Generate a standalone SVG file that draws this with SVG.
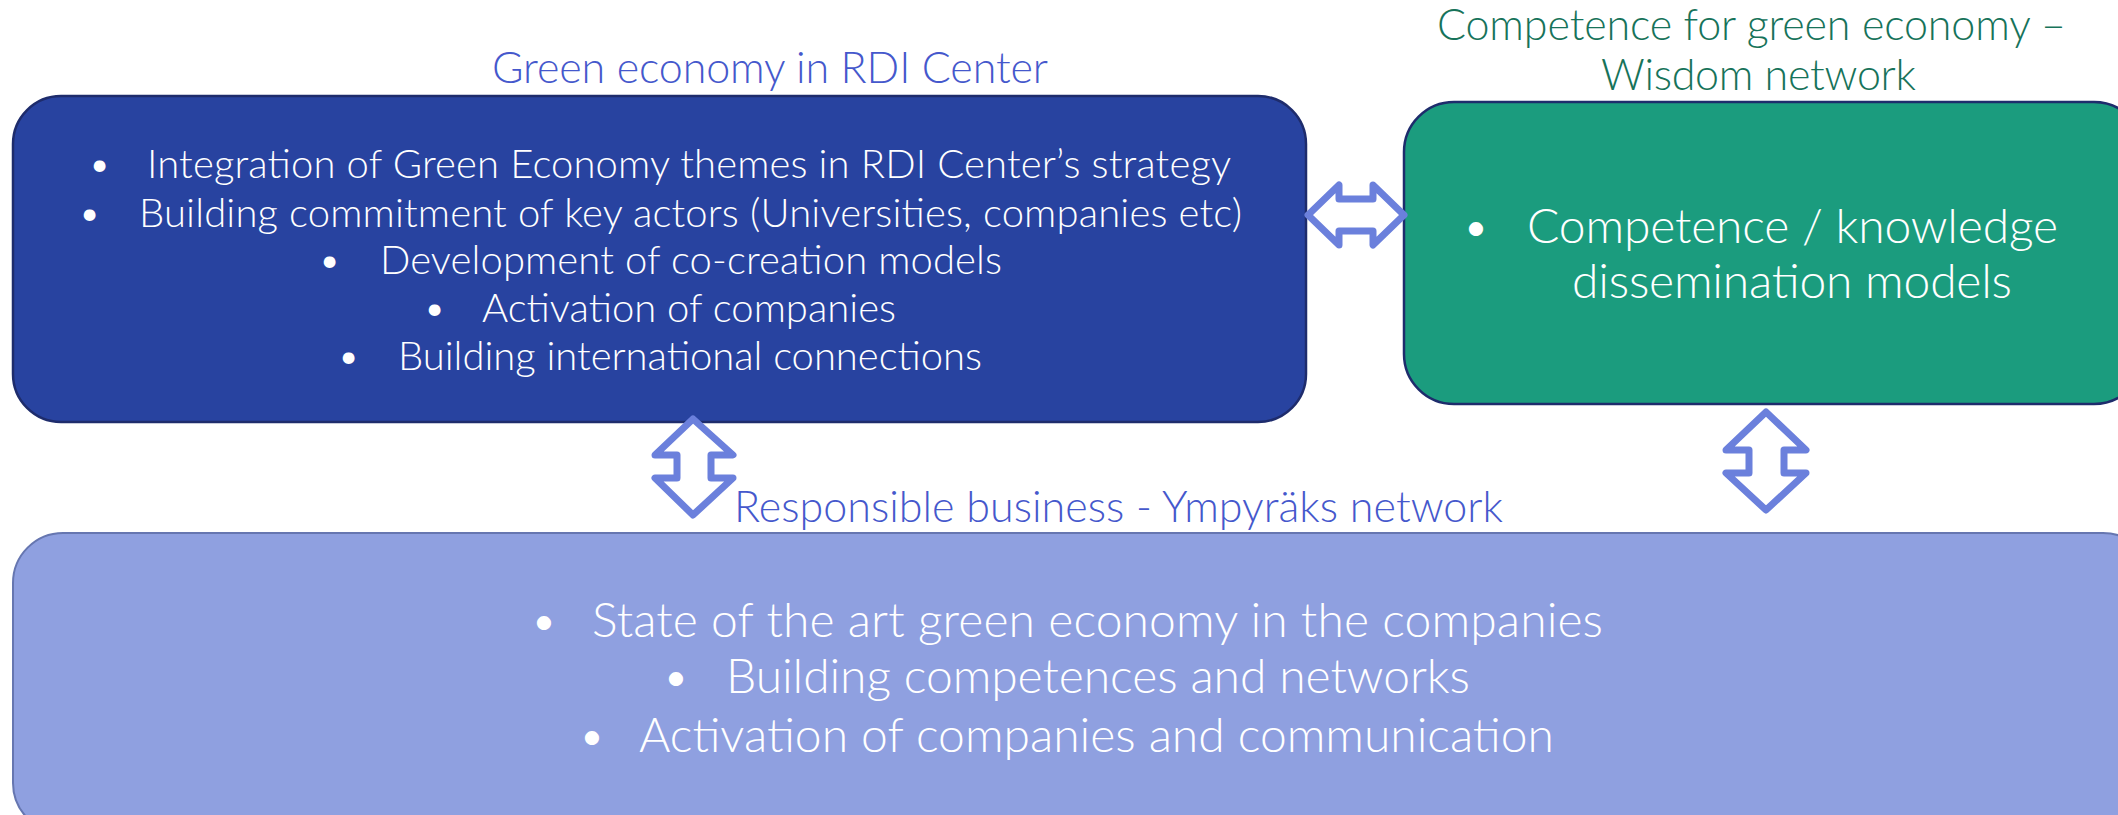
<svg xmlns="http://www.w3.org/2000/svg" width="2118" height="815" viewBox="0 0 2118 815">
<style>
text{font-family:"Lato Light",Lato,"Open Sans","Liberation Sans",sans-serif;font-weight:300}
.t{fill:#ffffff}
.ttl{fill:#4558CC;font-size:43px}
.gttl{fill:#17735A;font-size:43px}
.arr{fill:#ffffff;stroke:#6B80DC;stroke-width:7;stroke-linejoin:round}
</style>
<rect width="2118" height="815" fill="#ffffff"/>
<g id="rdi-center">
<text class="ttl" x="492" y="83" textLength="556">Green economy in RDI Center</text>
<rect x="13" y="96" width="1293" height="326" rx="48" ry="48" fill="#2843A0" stroke="#1E2C6C" stroke-width="2.5"/>
<g class="t" font-size="40">
<text x="88" y="178">•</text><text x="147" y="178" textLength="1084">Integration of Green Economy themes in RDI Center’s strategy</text>
<text x="78" y="227">•</text><text x="139" y="227" textLength="1103">Building commitment of key actors (Universities, companies etc)</text>
<text x="318" y="274">•</text><text x="380" y="274" textLength="622">Development of co-creation models</text>
<text x="423" y="322">•</text><text x="482" y="322" textLength="414">Activation of companies</text>
<text x="337" y="370">•</text><text x="398" y="370" textLength="584">Building international connections</text>
</g>
</g>
<g id="wisdom">
<text class="gttl" x="1437" y="40" textLength="629">Competence for green economy –</text>
<text class="gttl" x="1601" y="90" textLength="315">Wisdom network</text>
<rect x="1404" y="102" width="740" height="302" rx="50" ry="50" fill="#1B9C7E" stroke="#1E2C6C" stroke-width="2.5"/>
<g class="t" font-size="48">
<text x="1462" y="243">•</text><text x="1527" y="243" textLength="531">Competence / knowledge</text>
<text x="1572" y="298" textLength="440">dissemination models</text>
</g>
</g>
<g id="ympyraks">
<text class="ttl" x="734" y="522" textLength="769">Responsible business - Ympyräks network</text>
<rect x="13" y="533" width="2140" height="300" rx="50" ry="50" fill="#8FA0E0" stroke="#6676B0" stroke-width="2"/>
<g class="t" font-size="48">
<text x="530" y="637">•</text><text x="592" y="637" textLength="1011">State of the art green economy in the companies</text>
<text x="662" y="693">•</text><text x="726" y="693" textLength="744">Building competences and networks</text>
<text x="578" y="752">•</text><text x="639" y="752" textLength="915">Activation of companies and communication</text>
</g>
</g>
<g id="connectors">
<polygon class="arr" points="1308,215 1339,185 1339,199 1373,199 1373,185 1404,215 1373,245 1373,231 1339,231 1339,245"/>
<polygon class="arr" points="693,419 733,455 711,455 711,478 733,478 693,515 655,478 677,478 677,455 655,455"/>
<polygon class="arr" points="1766,412 1806,450 1784,450 1784,473 1806,473 1766,510 1726,473 1749,473 1749,450 1726,450"/>
</g>
</svg>
